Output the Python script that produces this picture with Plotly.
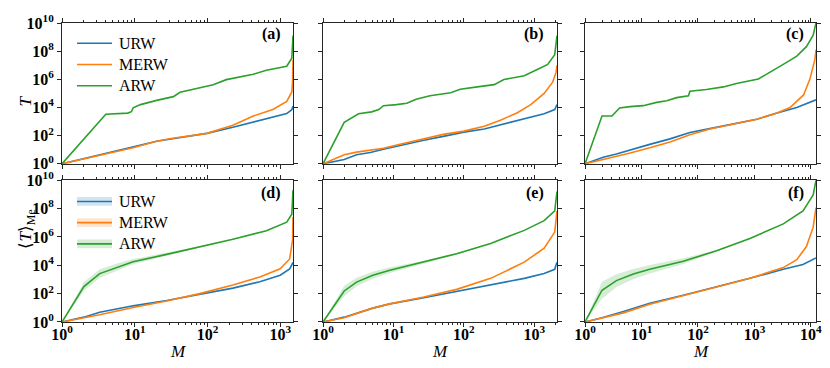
import math
import plotly.graph_objects as go
from plotly.subplots import make_subplots

# ─── 색 / 글꼴 ──────────────────────────────────────
COLORS = {"URW": "#1f77b4", "MERW": "#ff7f0e", "ARW": "#2ca02c"}
BAND_COLORS = {"URW": "rgba(31,119,180,0.2)", "MERW": "rgba(255,127,14,0.2)",
               "ARW": "rgba(44,160,44,0.2)"}
FONT = "Liberation Serif"
INK = "#262626"

# x-axis upper limits per column (network size)
M_MAX = [1500, 2100, 12300]

# ─── (a) single run, network 1 ──────────────────────
A_URW_M = [1, 4.6, 9.5, 20, 30, 98, 224, 525, 1230, 1445, 1500]
A_URW_T = [1, 6.3, 16, 40, 56, 145, 400, 1.2e3, 3.7e3, 7e3, 1.26e4]
A_MERW_M = [1, 4.6, 9.5, 20, 30, 98, 224, 427, 794, 1230, 1445, 1480, 1500]
A_MERW_T = [1, 5.6, 14, 40, 60, 145, 540, 2.5e3, 7.2e3, 2.7e4, 1.26e5, 6.3e5, 2.5e7]
A_ARW_M = [1, 4, 8, 9, 9.5, 12, 20, 34, 42, 63, 120, 182, 427, 646, 1230, 1445, 1500]
A_ARW_T = [1, 3.3e3, 4e3, 5e3, 9.5e3, 1.6e4, 3.2e4, 5.9e4, 1.2e5, 1.9e5, 4.1e5,
           9.5e5, 2.3e6, 4.4e6, 8.5e6, 3.2e7, 1.3e9]

# ─── (b) single run, network 2 ──────────────────────
B_URW_M = [1, 2, 3, 4.7, 7.2, 13.8, 27, 51, 100, 195, 370, 720, 1380, 1950, 2100]
B_URW_T = [1, 2, 4.4, 6.3, 10.7, 23, 47, 89, 178, 300, 660, 1.5e3, 3.6e3, 7.1e3, 1.6e4]
B_MERW_M = [1, 2, 3, 4.7, 7.2, 13.8, 27, 51, 100, 195, 330, 575, 890, 1380, 1820, 2040, 2100]
B_MERW_T = [1, 4.4, 6.8, 9.8, 12.6, 28, 62, 123, 210, 460, 1.26e3, 4.2e3, 1.6e4,
            1e5, 6.3e5, 3.2e6, 1e7]
B_ARW_M = [1, 2, 3.2, 4.9, 6.2, 7.2, 11, 15.5, 21, 33, 65, 89, 155, 270, 370, 720,
           1120, 1550, 1950, 2100]
B_ARW_T = [1, 870, 3.6e3, 4.9e3, 7.1e3, 1.35e4, 1.6e4, 2e4, 3.9e4, 6.9e4, 1.1e5,
           2e5, 2.9e5, 4.2e5, 9.8e5, 1.8e6, 5.2e6, 1.15e7, 5.6e7, 1.26e9]

# ─── (c) single run, network 3 ──────────────────────
C_URW_M = [1, 2.1, 3.6, 6.3, 14, 32, 72, 162, 479, 1100, 2510, 5620, 12300]
C_URW_T = [1, 2.9, 4.9, 9.8, 24, 59, 166, 316, 740, 1.48e3, 4e3, 1e4, 3.5e4]
C_MERW_M = [1, 2.1, 6.3, 14, 32, 72, 162, 479, 1100, 2510, 4270, 7410, 9550, 11750, 12300]
C_MERW_T = [1, 2, 5.8, 14, 36, 115, 300, 740, 1.48e3, 4e3, 1e4, 7.8e4, 1e6, 2.5e7, 1.26e8]
C_ARW_M = [1, 2, 3, 4.1, 6.3, 10.7, 18.6, 28, 42, 68, 72, 141, 282, 479, 1175, 2000,
           3240, 5620, 8320, 10960, 12300]
C_ARW_T = [1, 2.5e3, 2.5e3, 9.3e3, 1.15e4, 1.35e4, 2.3e4, 3e4, 5e4, 6.9e4, 1.45e5,
           1.9e5, 2.9e5, 5.1e5, 1.07e6, 4e6, 1.15e7, 4.4e7, 2.1e8, 1.35e9, 1e10]

# ─── (d) median over runs, network 1 ────────────────
D_URW_M = [1, 2, 3.3, 9.5, 27.5, 78, 224, 525, 1000, 1350, 1500]
D_URW_T = [1, 2.2, 4.8, 13.8, 33, 85, 245, 690, 2e3, 5.6e3, 1.6e4]
D_MERW_M = [1, 2, 3.3, 9.5, 27.5, 78, 224, 525, 1000, 1350, 1480, 1500]
D_MERW_T = [1, 2, 3.2, 10.5, 30, 100, 410, 1.5e3, 5.6e3, 2.8e4, 6.3e5, 2.5e7]
D_ARW_M = [1, 2, 3.3, 5.6, 9.5, 27.5, 78, 224, 646, 1230, 1445, 1500]
D_ARW_T = [1, 316, 2.6e3, 7.2e3, 1.8e4, 5.9e4, 2e5, 6.9e5, 2.7e6, 1.1e7, 4e7, 2e9]
D_ARW_BAND = [0, 0.3, 0.3, 0.25, 0.18, 0.1, 0.05, 0.04, 0.03, 0.03, 0.03, 0.03]  # decades

# ─── (e) median over runs, network 2 ────────────────
E_URW_M = [1, 2, 5.1, 8.9, 27, 79, 240, 720, 1380, 1950, 2100]
E_URW_T = [1, 2.2, 9.5, 19, 51, 148, 430, 1.2e3, 2.6e3, 5.2e3, 1.66e4]
E_MERW_M = [1, 2, 5.1, 8.9, 27, 79, 240, 720, 1380, 1950, 2100]
E_MERW_T = [1, 2, 9.5, 19, 58, 200, 1.2e3, 1.66e4, 1.6e5, 2.2e6, 6.8e7]
E_ARW_M = [1, 2, 3, 5.1, 8.9, 27, 79, 240, 720, 1380, 1950, 2100]
E_ARW_T = [1, 155, 650, 2e3, 4.5e3, 1.66e4, 6.6e4, 3.5e5, 2.9e6, 1.4e7, 6.8e7, 1.6e9]
E_ARW_BAND = [0, 0.37, 0.3, 0.25, 0.2, 0.1, 0.05, 0.03, 0.03, 0.03, 0.03, 0.03]

# ─── (f) median over runs, network 3 ────────────────
F_URW_M = [1, 2, 4.8, 14, 55, 214, 832, 3240, 7240, 12300]
F_URW_T = [1, 2, 5.6, 21, 78, 295, 1.2e3, 5.2e3, 1.15e4, 3.3e4]
F_MERW_M = [1, 2, 4.8, 14, 55, 214, 832, 3240, 5620, 8320, 10960, 12300]
F_MERW_T = [1, 2, 4.4, 18, 69, 295, 1.2e3, 6.9e3, 2.5e4, 2.1e5, 4.9e6, 1.15e8]
F_ARW_M = [1, 2, 3.6, 7.2, 14, 55, 214, 832, 3240, 7240, 10960, 12300]
F_ARW_T = [1, 174, 830, 2.4e3, 5.2e3, 1.95e4, 1.05e5, 7.8e5, 8.3e6, 6.8e7, 9.3e8, 1e10]
F_ARW_BAND = [0, 0.6, 0.45, 0.35, 0.3, 0.2, 0.05, 0.03, 0.03, 0.03, 0.03, 0.03]

PANELS = [
    ("(a)", 1, 1, [("URW", A_URW_M, A_URW_T), ("MERW", A_MERW_M, A_MERW_T),
                   ("ARW", A_ARW_M, A_ARW_T)], None),
    ("(b)", 1, 2, [("URW", B_URW_M, B_URW_T), ("MERW", B_MERW_M, B_MERW_T),
                   ("ARW", B_ARW_M, B_ARW_T)], None),
    ("(c)", 1, 3, [("URW", C_URW_M, C_URW_T), ("MERW", C_MERW_M, C_MERW_T),
                   ("ARW", C_ARW_M, C_ARW_T)], None),
    ("(d)", 2, 1, [("URW", D_URW_M, D_URW_T), ("MERW", D_MERW_M, D_MERW_T),
                   ("ARW", D_ARW_M, D_ARW_T)], D_ARW_BAND),
    ("(e)", 2, 2, [("URW", E_URW_M, E_URW_T), ("MERW", E_MERW_M, E_MERW_T),
                   ("ARW", E_ARW_M, E_ARW_T)], E_ARW_BAND),
    ("(f)", 2, 3, [("URW", F_URW_M, F_URW_T), ("MERW", F_MERW_M, F_MERW_T),
                   ("ARW", F_ARW_M, F_ARW_T)], F_ARW_BAND),
]

# ─── 레이아웃 (page pixel -> paper) ─────────────────
# the page body keeps its default 8px margin, so the figure is 8px smaller
PAGE_W, PAGE_H, BODY = 830, 368, 8
W, H = PAGE_W - BODY, PAGE_H - BODY
PLOT_L, PLOT_R, PLOT_T, PLOT_B = 62, 816, 12, 322
ML, MR, MT, MB = PLOT_L - BODY, PAGE_W - PLOT_R, PLOT_T - BODY, PAGE_H - PLOT_B
PW, PH = PLOT_R - PLOT_L, PLOT_B - PLOT_T


def px_x(p):
    return (p - PLOT_L) / PW


def px_y(p):
    return (PLOT_B - p) / PH


X_DOMAINS = [[px_x(62), px_x(293)], [px_x(323), px_x(557)], [px_x(585), px_x(816)]]
Y_DOMAINS = [[px_y(158), px_y(12)], [px_y(322), px_y(175)]]

fig = make_subplots(rows=2, cols=3)

for label, r, c, curves, band in PANELS:
    if band is not None:
        m, t = curves[2][1], curves[2][2]
        hi = [v * 10 ** w for v, w in zip(t, band)]
        lo = [v / 10 ** w for v, w in zip(t, band)]
        fig.add_trace(go.Scatter(x=m, y=hi, mode="lines", line=dict(width=0),
                                 showlegend=False, hoverinfo="skip"), row=r, col=c)
        fig.add_trace(go.Scatter(x=m, y=lo, mode="lines", line=dict(width=0),
                                 fill="tonexty", fillcolor=BAND_COLORS["ARW"],
                                 showlegend=False, hoverinfo="skip"), row=r, col=c)
    for name, m, t in curves:
        fig.add_trace(go.Scatter(
            x=m, y=t, mode="lines", name=name,
            line=dict(color=COLORS[name], width=1.6),
            showlegend=False,
        ), row=r, col=c)

# ─── 축 ─────────────────────────────────────────────
def sup_label(k):
    return "<b>10<sup>%d</sup></b>" % k


axis_common = dict(
    type="log", showgrid=False, zeroline=False, showline=True,
    linecolor=INK, linewidth=1, mirror="ticks",
    ticks="outside", ticklen=4, tickcolor=INK, tickwidth=1,
    tickfont=dict(family=FONT, size=16, color="black", weight="bold"),
)

minor_vals = [k * 10 ** d for d in range(5) for k in range(2, 10)]

for i in range(6):
    r, c = i // 3, i % 3
    n_dec = 5 if c == 2 else 4
    fig.update_xaxes(
        **axis_common,
        domain=X_DOMAINS[c],
        range=[0, math.log10(M_MAX[c])],
        tickvals=[10 ** k for k in range(n_dec)],
        ticktext=[sup_label(k) for k in range(n_dec)],
        showticklabels=(r == 1),
        ticklabelstandoff=-6,
        minor=dict(ticks="outside", ticklen=2, tickcolor=INK,
                   tickmode="array", tickvals=minor_vals, showgrid=False),
        row=r + 1, col=c + 1,
    )
    fig.update_yaxes(
        **axis_common,
        domain=Y_DOMAINS[r],
        range=[0, 10],
        tickvals=[10 ** k for k in range(0, 11, 2)],
        ticktext=[sup_label(k) for k in range(0, 11, 2)],
        showticklabels=(c == 0),
        row=r + 1, col=c + 1,
    )

# ─── 주석: 패널 라벨, 축 제목 ───────────────────────
for i, (label, r, c, _, _) in enumerate(PANELS):
    n = i + 1
    fig.add_annotation(
        text="<b>%s</b>" % label, x=0.955, y=0.925 if r == 1 else 0.91,
        xref="x%s domain" % ("" if n == 1 else n),
        yref="y%s domain" % ("" if n == 1 else n),
        xanchor="right", yanchor="middle", showarrow=False,
        font=dict(family=FONT, size=16, color="black"),
    )

for c in range(3):
    fig.add_annotation(
        text="<i>M</i>", x=sum(X_DOMAINS[c]) / 2, y=px_y(353),
        xref="paper", yref="paper", showarrow=False,
        xanchor="center", yanchor="middle",
        font=dict(family=FONT, size=17, color="black"),
    )

fig.add_annotation(text="<i>T</i>", x=px_x(14), y=sum(Y_DOMAINS[0]) / 2,
                   xref="paper", yref="paper", showarrow=False, textangle=-90,
                   font=dict(family=FONT, size=17, color="black"))
fig.add_annotation(text="⟨<i>T</i>⟩<sub>Me</sub>", x=px_x(14), y=sum(Y_DOMAINS[1]) / 2,
                   xref="paper", yref="paper", showarrow=False, textangle=-90,
                   font=dict(family=FONT, size=17, color="black"))

# ─── 범례: (a) 선, (d) 밴드 + 선 ────────────────────
LEGEND_ROWS = {"(a)": [33, 55, 77], "(d)": [197, 219, 241]}
for key, rows in LEGEND_ROWS.items():
    for k, name in enumerate(["URW", "MERW", "ARW"]):
        yc = rows[k]
        if key == "(d)":
            fig.add_shape(type="rect", xref="paper", yref="paper",
                          x0=px_x(77), x1=px_x(112), y0=px_y(yc + 4.5), y1=px_y(yc - 4.5),
                          fillcolor=BAND_COLORS[name], line=dict(width=0))
        fig.add_shape(type="line", xref="paper", yref="paper",
                      x0=px_x(77), x1=px_x(112), y0=px_y(yc), y1=px_y(yc),
                      line=dict(color=COLORS[name], width=1.6))
        fig.add_annotation(text=name, x=px_x(117), y=px_y(yc), xref="paper", yref="paper",
                           xanchor="left", yanchor="middle", showarrow=False,
                           font=dict(family=FONT, size=16, color="black"))

fig.update_layout(
    width=W, height=H,
    margin=dict(l=ML, r=MR, t=MT, b=MB, pad=0),
    plot_bgcolor="white", paper_bgcolor="white",
    font=dict(family=FONT, color="black"),
    showlegend=False,
)

fig.write_html("out.html")
